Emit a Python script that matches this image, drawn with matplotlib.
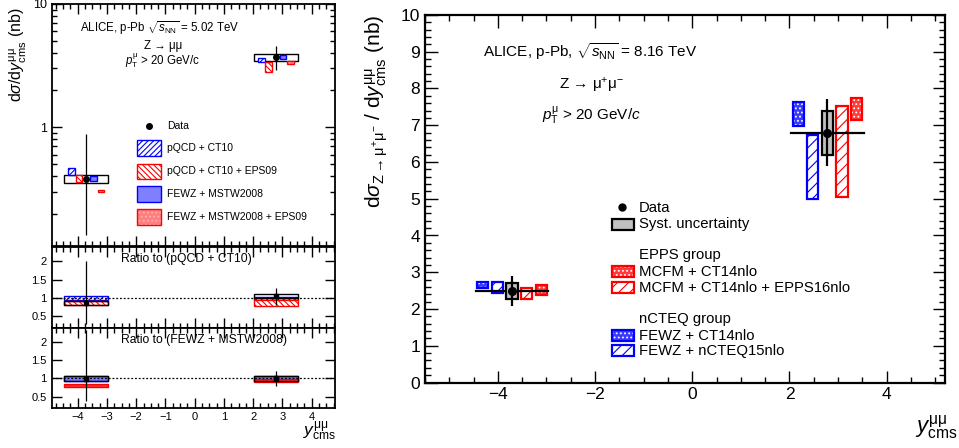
import numpy as np
import matplotlib
matplotlib.use("Agg")
import matplotlib.pyplot as plt
from matplotlib.patches import Rectangle
from matplotlib.ticker import MultipleLocator, AutoMinorLocator, LogLocator, NullFormatter

plt.rcParams['font.family'] = ['Liberation Sans', 'DejaVu Sans']
plt.rcParams['mathtext.fontset'] = 'custom'
plt.rcParams['mathtext.rm'] = 'Liberation Sans'
plt.rcParams['mathtext.it'] = 'Liberation Sans:italic'
plt.rcParams['mathtext.bf'] = 'Liberation Sans:bold'
plt.rcParams['hatch.linewidth'] = 0.8

# rapidity bins (backward, forward)
bin_lo = [-4.46, 2.03]
bin_hi = [-2.96, 3.53]
bin_mid = [-3.71, 2.78]

# ---- p-Pb 5.02 TeV ----
data502 = [0.38, 3.69]
stat502_dn = [0.246, 0.75]
stat502_up = [0.50, 0.84]
syst502_lo = [0.354, 3.47]
syst502_hi = [0.41, 3.95]

pqcd_ct10_lo = [0.41, 3.36]
pqcd_ct10_hi = [0.468, 3.65]
pqcd_eps09_lo = [0.357, 2.83]
pqcd_eps09_hi = [0.41, 3.40]
fewz_mstw_lo = [0.37, 3.60]
fewz_mstw_hi = [0.40, 3.83]
fewz_eps09_lo = [0.30, 3.27]
fewz_eps09_hi = [0.31, 3.43]

# ratio to pQCD + CT10
r1_data = [0.87, 1.05]
r1_stat_dn = [0.58, 0.24]
r1_stat_up = [1.13, 0.21]
r1_syst_lo = [0.81, 0.99]
r1_syst_hi = [0.93, 1.10]
r1_ct10_lo = [0.94, 0.96]
r1_ct10_hi = [1.06, 1.04]
r1_eps09_lo = [0.80, 0.79]
r1_eps09_hi = [0.93, 0.94]

# ratio to FEWZ + MSTW2008
r2_data = [0.98, 1.00]
r2_stat_dn = [0.60, 0.21]
r2_stat_up = [1.35, 0.21]
r2_syst_lo = [0.93, 0.94]
r2_syst_hi = [1.06, 1.06]
r2_mstw_lo = [0.93, 0.94]
r2_mstw_hi = [1.06, 1.06]
r2_eps09_lo = [0.77, 0.90]
r2_eps09_hi = [0.84, 0.97]

# ---- p-Pb 8.16 TeV ----
data816 = [2.50, 6.80]
stat816 = [0.41, 0.92]
syst816 = [0.22, 0.60]
fewz_ct14_lo = [2.56, 6.99]
fewz_ct14_hi = [2.74, 7.62]
fewz_ncteq_lo = [2.43, 5.00]
fewz_ncteq_hi = [2.74, 6.74]
mcfm_epps_lo = [2.26, 5.06]
mcfm_epps_hi = [2.56, 7.53]
mcfm_ct14_lo = [2.37, 7.15]
mcfm_ct14_hi = [2.64, 7.74]

W, H = 959, 448
fig = plt.figure(figsize=(W / 100, H / 100), dpi=100)


def px_axes(x0, y0, x1, y1):
    return fig.add_axes([x0 / W, 1 - y1 / H, (x1 - x0) / W, (y1 - y0) / H])


def box(ax, x0, x1, y0, y1, fc='none', ec='k', hatch=None, hc=None, lw=1.0, z=2, tr=None):
    tr = tr if tr is not None else ax.transData
    if hatch and hc:
        ax.add_patch(Rectangle((x0, y0), x1 - x0, y1 - y0, facecolor=fc, edgecolor=hc,
                               hatch=hatch, lw=0, zorder=z, transform=tr))
        ax.add_patch(Rectangle((x0, y0), x1 - x0, y1 - y0, fill=False, edgecolor=ec,
                               lw=lw, zorder=z, transform=tr))
    else:
        ax.add_patch(Rectangle((x0, y0), x1 - x0, y1 - y0, facecolor=fc, edgecolor=ec,
                               hatch=hatch, lw=lw, zorder=z, transform=tr))


def root_ticks(ax, size, major, minor, lw=1.0):
    ax.tick_params(which='both', direction='in', top=True, right=True, labelsize=size, width=lw)
    ax.tick_params(which='major', length=major)
    ax.tick_params(which='minor', length=minor)
    for s in ax.spines.values():
        s.set_linewidth(1.3)


# ===================== left: 5.02 TeV =====================
ax1 = px_axes(51.5, 4, 335, 246.5)
ax2 = px_axes(51.5, 246.5, 335, 327.5)
ax3 = px_axes(51.5, 327.5, 335, 407.5)

st_left = [
    dict(fc='white', ec='blue', hatch='//////', hc=None),
    dict(fc='white', ec='red', hatch='\\\\\\\\\\\\', hc=None),
    dict(fc='#7f7fff', ec='blue', hatch=None, hc=None),
    dict(fc='#ff7f7f', ec='red', hatch='....', hc='#ffb0b0'),
]
models502 = [(pqcd_ct10_lo, pqcd_ct10_hi), (pqcd_eps09_lo, pqcd_eps09_hi),
             (fewz_mstw_lo, fewz_mstw_hi), (fewz_eps09_lo, fewz_eps09_hi)]
offs502 = [-0.50, -0.25, 0.25, 0.50]

ax1.set_yscale('log')
for i in range(2):
    box(ax1, bin_lo[i], bin_hi[i], syst502_lo[i], syst502_hi[i], fc='none', ec='k', lw=1.0, z=2)
    for (lo, hi), st, off in zip(models502, st_left, offs502):
        c = bin_mid[i] + off
        box(ax1, c - 0.11, c + 0.11, lo[i], hi[i], lw=1.0, z=3, **st)
ax1.errorbar(bin_mid, data502, yerr=[stat502_dn, stat502_up], fmt='o', color='k',
             ms=4, lw=0.9, capsize=0, zorder=5)
ax1.set_xlim(-4.9, 4.8)
ax1.set_ylim(0.108, 10)
ax1.set_yticks([1, 10])
ax1.set_yticklabels(['1', '10'])
ax1.yaxis.set_minor_locator(LogLocator(base=10, subs=np.arange(2, 10)))
ax1.yaxis.set_minor_formatter(NullFormatter())
ax1.xaxis.set_major_locator(MultipleLocator(1))
ax1.xaxis.set_minor_locator(AutoMinorLocator(4))
root_ticks(ax1, 9, 7, 3.5)
ax1.tick_params(labelbottom=False)

fig.text(160 / W, 1 - 28 / H, r'ALICE, p-Pb $\sqrt{s_{\rm NN}}$ = 5.02 TeV', ha='center', va='center', fontsize=8.3)
fig.text(163 / W, 1 - 46 / H, 'Z → μμ', ha='center', va='center', fontsize=8.3)
fig.text(163 / W, 1 - 61 / H, r'$p_{\rm T}^{\rm \mu}$ > 20 GeV/c', ha='center', va='center', fontsize=8.3)
fig.text(18 / W, 1 - 7 / H, r'd$\sigma$/d$y^{\rm \mu\mu}_{\rm cms}$ (nb)', rotation=90,
         ha='center', va='top', fontsize=11.5)

# legend (left)
leg_labels = ['pQCD + CT10', 'pQCD + CT10 + EPS09', 'FEWZ + MSTW2008', 'FEWZ + MSTW2008 + EPS09']
leg_rows = [148, 171.5, 194, 217]
ax1.plot([149 / W], [1 - 126 / H], 'o', color='k', ms=4, transform=fig.transFigure, clip_on=False)
fig.text(167 / W, 1 - 126 / H, 'Data', ha='left', va='center', fontsize=7.5)
for lab, yr, st in zip(leg_labels, leg_rows, st_left):
    box(ax1, 137 / W, 161 / W, 1 - (yr + 8) / H, 1 - (yr - 8) / H, lw=1.0, z=3,
        tr=fig.transFigure, **st)
    fig.text(167 / W, 1 - yr / H, lab, ha='left', va='center', fontsize=7.5)
for p in ax1.patches[-8:]:
    p.set_clip_on(False)

# ratio panels
ratio_sets = [
    (ax2, r1_data, r1_stat_dn, r1_stat_up, r1_syst_lo, r1_syst_hi,
     [(r1_ct10_lo, r1_ct10_hi, st_left[0]), (r1_eps09_lo, r1_eps09_hi, st_left[1])],
     'Ratio to (pQCD + CT10)'),
    (ax3, r2_data, r2_stat_dn, r2_stat_up, r2_syst_lo, r2_syst_hi,
     [(r2_mstw_lo, r2_mstw_hi, st_left[2]), (r2_eps09_lo, r2_eps09_hi,
                                             dict(fc='#ff3030', ec='red', hatch=None, hc=None))],
     'Ratio to (FEWZ + MSTW2008)'),
]
for ax, rd, sdn, sup, slo, shi, bands, title in ratio_sets:
    for i in range(2):
        for lo, hi, st in bands:
            box(ax, bin_lo[i], bin_hi[i], lo[i], hi[i], lw=1.0, z=2, **st)
        box(ax, bin_lo[i], bin_hi[i], slo[i], shi[i], fc='none', ec='k', lw=1.0, z=3)
    ax.axhline(1, color='k', ls=(0, (1.5, 1.5)), lw=0.9, zorder=4)
    ax.errorbar(bin_mid, rd, yerr=[sdn, sup], fmt='s', color='k', ms=3.5, lw=0.9,
                capsize=0, zorder=5)
    ax.set_xlim(-4.9, 4.8)
    ax.set_ylim(0.2, 2.4)
    ax.set_yticks([0.5, 1, 1.5, 2])
    ax.set_yticklabels(['0.5', '1', '1.5', '2'])
    ax.xaxis.set_major_locator(MultipleLocator(1))
    ax.xaxis.set_minor_locator(AutoMinorLocator(4))
    root_ticks(ax, 8, 7, 3.5)
    ax.text(0.245, 0.85, title, transform=ax.transAxes, ha='left', va='center', fontsize=8.7)
ax2.tick_params(labelbottom=False)
ax3.set_xticks(np.arange(-4, 5))
fig.text(337 / W, 1 - 432 / H, r'$y^{\rm \mu\mu}_{\rm cms}$', ha='right', va='center', fontsize=12.5)

# ===================== right: 8.16 TeV =====================
axr = px_axes(425, 15, 945, 382.5)
st_right = [
    dict(fc='#3b3bff', ec='blue', hatch='....', hc='white'),
    dict(fc='white', ec='blue', hatch='///', hc=None),
    dict(fc='white', ec='red', hatch='///', hc=None),
    dict(fc='#ff3b3b', ec='red', hatch='....', hc='white'),
]
models816 = [(fewz_ct14_lo, fewz_ct14_hi), (fewz_ncteq_lo, fewz_ncteq_hi),
             (mcfm_epps_lo, mcfm_epps_hi), (mcfm_ct14_lo, mcfm_ct14_hi)]
offs816 = [-0.60, -0.30, 0.30, 0.60]
for i in range(2):
    for (lo, hi), st, off in zip(models816, st_right, offs816):
        c = bin_mid[i] + off
        box(axr, c - 0.115, c + 0.115, lo[i], hi[i], lw=1.6, z=3, **st)
    axr.plot([bin_lo[i], bin_hi[i]], [data816[i], data816[i]], color='k', lw=1.6, zorder=4)
    box(axr, bin_mid[i] - 0.115, bin_mid[i] + 0.115, data816[i] - syst816[i],
        data816[i] + syst816[i], fc='#c0c0c0', ec='k', lw=1.6, z=5)
axr.errorbar(bin_mid, data816, yerr=stat816, fmt='o', color='k', ms=5.5, lw=1.6,
             capsize=0, zorder=6)
axr.set_xlim(-5.5, 5.2)
axr.set_ylim(0, 10)
axr.xaxis.set_major_locator(MultipleLocator(2))
axr.xaxis.set_minor_locator(AutoMinorLocator(4))
axr.yaxis.set_major_locator(MultipleLocator(1))
axr.yaxis.set_minor_locator(AutoMinorLocator(5))
root_ticks(axr, 12.5, 9, 4.5)
for s in axr.spines.values():
    s.set_linewidth(1.6)

fig.text(590 / W, 1 - 52 / H, r'ALICE, p-Pb, $\sqrt{s_{\rm NN}}$ = 8.16 TeV', ha='center', va='center', fontsize=11)
fig.text(592 / W, 1 - 85 / H, r'Z → $\rm \mu^{+}\mu^{-}$', ha='center', va='center', fontsize=11)
fig.text(591 / W, 1 - 115 / H, r'$p_{\rm T}^{\rm \mu}$ > 20 GeV/$c$', ha='center', va='center', fontsize=11)
fig.text(377 / W, 1 - 15 / H,
         r'd$\sigma_{\rm Z \rightarrow \mu^{+}\mu^{-}}$ / d$y^{\rm \mu\mu}_{\rm cms}$ (nb)',
         rotation=90, ha='center', va='top', fontsize=15)
fig.text(957 / W, 1 - 428 / H, r'$y^{\rm \mu\mu}_{\rm cms}$', ha='right', va='center', fontsize=16)

# legend (right)
fig.text(639 / W, 1 - 207.5 / H, 'Data', ha='left', va='center', fontsize=10.7)
axr.plot([622 / W], [1 - 207.5 / H], 'o', color='k', ms=5, transform=fig.transFigure, clip_on=False)
fig.text(639 / W, 1 - 224 / H, 'Syst. uncertainty', ha='left', va='center', fontsize=10.7)
box(axr, 612 / W, 634 / W, 1 - 230 / H, 1 - 219 / H, fc='#c0c0c0', ec='k', lw=1.6, z=3,
    tr=fig.transFigure)
fig.text(639 / W, 1 - 254.5 / H, 'EPPS group', ha='left', va='center', fontsize=10.7)
fig.text(639 / W, 1 - 318.5 / H, 'nCTEQ group', ha='left', va='center', fontsize=10.7)
rleg_labels = ['FEWZ + CT14nlo', 'FEWZ + nCTEQ15nlo', 'MCFM + CT14nlo + EPPS16nlo', 'MCFM + CT14nlo']
rleg_rows = [335.5, 350.5, 287.5, 271.5]
for lab, yr, st in zip(rleg_labels, rleg_rows, st_right):
    box(axr, 612 / W, 634 / W, 1 - (yr + 5.5) / H, 1 - (yr - 5.5) / H, lw=1.6, z=3,
        tr=fig.transFigure, **st)
    fig.text(639 / W, 1 - yr / H, lab, ha='left', va='center', fontsize=10.7)

fig.savefig('out.png', dpi=100)
